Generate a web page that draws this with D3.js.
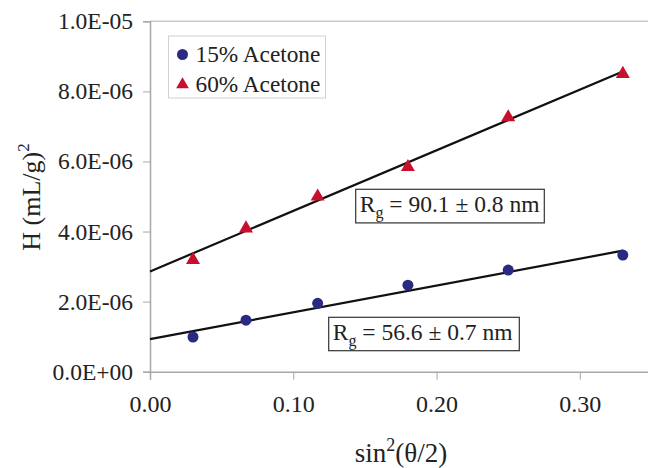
<!DOCTYPE html>
<html>
<head>
<meta charset="utf-8">
<script src="https://cdn.jsdelivr.net/npm/d3@7"></script>
<style>
  body { margin: 0; background: #fff; }
  svg text { font-family: "Liberation Serif", "Times New Roman", serif; fill: #222; }
</style>
</head>
<body>
<div id="chart"></div>
<script>
// data
const xValues = [0.030, 0.067, 0.117, 0.180, 0.250, 0.330];
const acetone15 = [0.99e-6, 1.47e-6, 1.95e-6, 2.47e-6, 2.90e-6, 3.33e-6];
const acetone60 = [3.19e-6, 4.09e-6, 5.00e-6, 5.84e-6, 7.26e-6, 8.50e-6];
const seriesNames = ["15% Acetone", "60% Acetone"];
// linear fits (intercept, slope) as drawn
const fitIntercept = [0.93e-6, 2.86e-6];
const fitSlope = [7.65e-6, 17.3e-6];
const fitRange = [0, 0.33];
const rgLabels = ["56.6 ± 0.7 nm", "90.1 ± 0.8 nm"];
const xTicks = [0, 0.1, 0.2, 0.3];
const yTicks = [0, 2e-6, 4e-6, 6e-6, 8e-6, 1e-5];
const yTickLabels = ["0.0E+00", "2.0E-06", "4.0E-06", "6.0E-06", "8.0E-06", "1.0E-05"];

const width = 648, height = 468;
const svg = d3.select("#chart").append("svg")
    .attr("width", width)
    .attr("height", height);

const x = d3.scaleLinear().domain([0, 0.35]).range([150, 651.5]);
const y = d3.scaleLinear().domain([0, 1e-5]).range([371.7, 21.3]);

const axisColor = "#a8a8a8";

// plot frame top edge
svg.append("line")
    .attr("x1", x(0)).attr("x2", width)
    .attr("y1", y(1e-5)).attr("y2", y(1e-5))
    .attr("stroke", "#c4c8cc").attr("stroke-width", 1.5);

// Y axis
const yAxis = svg.append("g")
    .attr("transform", `translate(${x(0)},0)`)
    .call(d3.axisLeft(y).tickValues(yTicks).tickSize(7).tickPadding(10)
        .tickFormat((d, i) => yTickLabels[i]));
yAxis.select(".domain").attr("stroke", axisColor).attr("stroke-width", 1.5);
yAxis.selectAll(".tick line").attr("stroke", axisColor);
yAxis.selectAll(".tick text").style("font-size", "23.5px").attr("fill", "#222");

// X axis
const xAxis = svg.append("g")
    .attr("transform", `translate(0,${y(0)})`)
    .call(d3.axisBottom(x).tickValues(xTicks).tickSize(8).tickPadding(15)
        .tickFormat(d3.format(".2f")));
xAxis.select(".domain").attr("stroke", axisColor).attr("stroke-width", 1.5);
xAxis.selectAll(".tick line").attr("stroke", axisColor);
xAxis.selectAll(".tick text").style("font-size", "24px").attr("fill", "#222");

// axis titles
const yTitle = svg.append("text")
    .attr("transform", `translate(40,197) rotate(-90)`)
    .attr("text-anchor", "middle")
    .style("font-size", "26px");
yTitle.append("tspan").text("H (mL/g)");
yTitle.append("tspan").attr("dy", -11).style("font-size", "17px").text("2");

const xTitle = svg.append("text")
    .attr("x", 401)
    .attr("y", 462)
    .attr("text-anchor", "middle")
    .style("font-size", "27px");
xTitle.append("tspan").text("sin");
xTitle.append("tspan").attr("dy", -11).style("font-size", "18px").text("2");
xTitle.append("tspan").attr("dy", 11).text("(θ/2)");

// fit lines
const fitLine = d3.line().x(d => x(d[0])).y(d => y(d[1]));
fitIntercept.forEach((b, i) => {
  const pts = fitRange.map(v => [v, b + fitSlope[i] * v]);
  svg.append("path")
      .attr("d", fitLine(pts))
      .attr("fill", "none")
      .attr("stroke", "#111")
      .attr("stroke-width", 2.2);
});

// points
const navy = "#2a2a84", red = "#c8102e";
svg.selectAll("circle.p15")
    .data(xValues.map((v, i) => [v, acetone15[i]]))
    .enter().append("circle")
    .attr("class", "p15")
    .attr("cx", d => x(d[0]))
    .attr("cy", d => y(d[1]))
    .attr("r", 5.5)
    .attr("fill", navy);

const tri = d3.symbol().type(d3.symbolTriangle).size(85);
svg.selectAll("path.p60")
    .data(xValues.map((v, i) => [v, acetone60[i]]))
    .enter().append("path")
    .attr("class", "p60")
    .attr("d", tri)
    .attr("transform", d => `translate(${x(d[0])},${y(d[1])})`)
    .attr("fill", red);

// legend
const legend = svg.append("g");
legend.append("rect")
    .attr("x", 168.5).attr("y", 36)
    .attr("width", 157).attr("height", 62)
    .attr("fill", "#fff").attr("stroke", "#d0d0d0");
legend.append("circle").attr("cx", 182.5).attr("cy", 54.5).attr("r", 5.5).attr("fill", navy);
legend.append("path").attr("d", d3.symbol().type(d3.symbolTriangle).size(70))
    .attr("transform", "translate(182.5,84.5)").attr("fill", red);
legend.selectAll("text")
    .data(seriesNames)
    .enter().append("text")
    .attr("x", 195.5)
    .attr("y", (d, i) => 62 + i * 30)
    .style("font-size", "23.3px")
    .text(d => d);

// Rg annotation boxes
const boxes = [
  { x: 328.7, y: 317.3, w: 190.6, h: 33.4 },
  { x: 355.7, y: 189.3, w: 188.6, h: 33.6 }
];
boxes.forEach((b, i) => {
  svg.append("rect")
      .attr("x", b.x).attr("y", b.y)
      .attr("width", b.w).attr("height", b.h)
      .attr("fill", "#fff").attr("stroke", "#333").attr("stroke-width", 1.2);
  const t = svg.append("text")
      .attr("x", b.x + 4)
      .attr("y", b.y + 23)
      .style("font-size", "23.5px");
  t.append("tspan").text("R");
  t.append("tspan").attr("dy", 6).style("font-size", "16px").text("g");
  t.append("tspan").attr("dy", -6).text(" = " + rgLabels[i]);
});
</script>
</body>
</html>
